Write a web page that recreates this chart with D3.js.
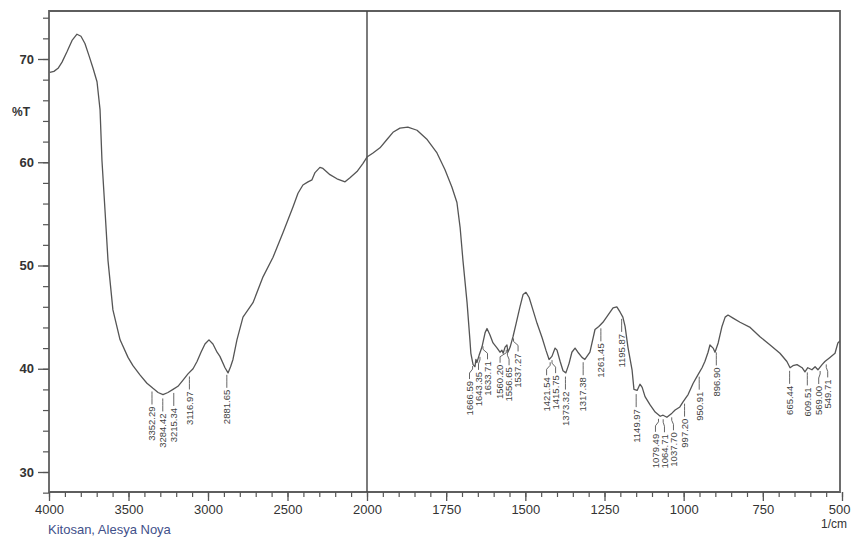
<!DOCTYPE html>
<html>
<head>
<meta charset="utf-8">
<script src="https://cdn.jsdelivr.net/npm/d3@7/dist/d3.min.js"></script>
<style>
  html, body { margin: 0; padding: 0; background: #fff; }
  svg { display: block; }
  text { font-family: "Liberation Sans", Arial, sans-serif; }
</style>
</head>
<body>
<svg id="chart" width="851" height="542"></svg>
<script>
// ---- Data ----
const wavenumber = [
  3995,3969,3943,3918,3887,3855,3824,3799,3774,3748,3723,3698,3679,3667,3648,3629,3598,3553,3503,3472,
  3428,3384,3346,3314,3283,3252,3220,3189,3157,3126,3094,3069,3044,3019,2994,2969,2943,2925,2893,2874,
  2858,2843,2818,2780,2717,2654,2591,2528,2465,2434,2403,2371,2346,2327,2296,2277,2233,2189,2138,2107,
  2063,2025,2000,1981,1959,1937,1918,1896,1871,1842,1810,1779,1754,1732,1716,1706,1697,1684,1675,1672,
  1665,1659,1656,1653,1646,1637,1627,1621,1612,1602,1589,1580,1574,1570,1564,1558,1555,1548,1539,1529,
  1517,1507,1498,1488,1476,1463,1447,1435,1425,1416,1406,1400,1390,1381,1372,1362,1353,1343,1334,1321,
  1312,1296,1280,1268,1255,1239,1223,1211,1201,1192,1185,1176,1163,1157,1147,1138,1131,1122,1106,1090,
  1074,1065,1053,1037,1027,1012,1002,986,970,955,942,933,923,917,907,901,891,879,869,860,
  844,822,790,759,727,696,674,664,655,642,626,617,608,595,585,576,563,554,538,522,
  513,503
];
const transmittance = [
  68.7,68.8,69.1,69.7,70.7,71.8,72.4,72.2,71.5,70.3,69.1,67.8,65.1,60.2,55.4,50.5,45.7,42.8,41.1,40.3,
  39.4,38.6,38.1,37.7,37.5,37.7,38.0,38.3,38.9,39.5,40.0,40.7,41.6,42.4,42.8,42.4,41.6,41.2,40.1,39.6,
  40.2,40.9,42.8,45.0,46.4,48.9,50.8,53.2,55.7,57.0,57.8,58.1,58.3,59.0,59.5,59.4,58.8,58.4,58.1,58.5,
  59.1,59.9,60.5,60.9,61.4,62.2,62.9,63.3,63.4,63.1,62.2,60.9,59.3,57.6,56.1,53.7,50.5,46.4,42.8,41.5,
  40.4,40.2,40.9,40.6,41.3,42.1,43.5,43.9,43.3,42.5,42.0,41.6,41.8,41.5,42.1,42.3,41.6,42.1,43.1,44.4,
  46.0,47.2,47.4,46.9,45.7,44.4,43.0,41.8,40.9,41.2,42.0,41.8,40.7,39.8,39.6,40.5,41.6,42.0,41.6,41.1,
  40.9,41.6,43.8,44.1,44.5,45.2,45.9,46.0,45.5,45.0,44.1,42.1,39.9,38.0,37.9,38.5,38.2,37.3,36.5,35.8,
  35.4,35.5,35.3,35.7,36.0,36.3,36.8,37.5,38.6,39.4,40.1,40.7,41.6,42.3,42.0,41.6,42.5,44.1,45.0,45.2,
  44.9,44.5,44.0,43.1,42.3,41.5,40.7,40.1,40.3,40.4,40.1,39.7,40.1,39.9,40.2,39.9,40.4,40.7,41.1,41.5,
  42.5,42.8
];
const peakLabels = [
  "3352.29","3284.42","3215.34","3116.97","2881.65",
  "1666.59","1643.35","1633.71","1560.20","1556.65","1537.27",
  "1421.54","1415.75","1373.32","1317.38","1261.45","1195.87","1149.97",
  "1079.49","1064.71","1037.70","997.20","950.91","896.90",
  "665.44","609.51","569.00","549.71"
];
const xMajorTicks = [4000,3500,3000,2500,2000,1750,1500,1250,1000,750,500];
const yMajorTicks = [30,40,50,60,70];
const xUnitLabel = "1/cm";
const yUnitLabel = "%T";
const sampleName = "Kitosan, Alesya Noya";

// ---- Layout ----
const svg = d3.select("#chart");
const pLeft = 49, pRight = 840, pTop = 11, pBottom = 492;

const x = d3.scaleLinear().domain([4000, 2000, 500]).range([49, 367, 842]);
const y = d3.scaleLinear().domain([30, 70]).range([472, 59]);

const xMinor = d3.range(4000, 2000, -100).concat(d3.range(2000, 499, -50));
const yMinor = d3.range(28, 75, 2);

// Frame
svg.append("path")
  .attr("d", `M${pLeft},${pBottom}V${pTop}H${pRight}V${pBottom}Z`)
  .attr("fill", "none").attr("stroke", "#5e5e5e").attr("stroke-width", 1.8);

// Range change marker at 2000
svg.append("line")
  .attr("x1", x(2000)).attr("x2", x(2000)).attr("y1", pTop).attr("y2", pBottom)
  .attr("stroke", "#444").attr("stroke-width", 1.4);

// X axis
const gx = svg.append("g").attr("transform", `translate(0,${pBottom})`);
gx.append("g").call(d3.axisBottom(x).tickValues(xMinor).tickSize(5).tickFormat(""))
  .call(g => g.select(".domain").remove())
  .call(g => g.selectAll("line").attr("stroke", "#555").attr("stroke-width", 1.2));
gx.append("g").call(d3.axisBottom(x).tickValues(xMajorTicks).tickSize(9).tickPadding(4).tickFormat(d3.format("d")))
  .call(g => g.select(".domain").remove())
  .call(g => g.selectAll("line").attr("stroke", "#555").attr("stroke-width", 1.3))
  .call(g => g.selectAll("text").attr("fill", "#333").attr("font-size", 13)
    .attr("font-family", "'Liberation Sans', Arial, sans-serif")
    .attr("text-anchor", d => d === 500 ? "end" : "middle")
    .attr("dx", d => d === 500 ? 8 : 0));

// Y axis
const gy = svg.append("g").attr("transform", `translate(${pLeft},0)`);
gy.append("g").call(d3.axisLeft(y).tickValues(yMinor).tickSize(6).tickFormat(""))
  .call(g => g.select(".domain").remove())
  .call(g => g.selectAll("line").attr("stroke", "#555").attr("stroke-width", 1.2));
gy.append("g").call(d3.axisLeft(y).tickValues(yMajorTicks).tickSize(11).tickPadding(4).tickFormat(d3.format("d")))
  .call(g => g.select(".domain").remove())
  .call(g => g.selectAll("line").attr("stroke", "#555").attr("stroke-width", 1.3))
  .call(g => g.selectAll("text").attr("fill", "#333").attr("font-size", 13).attr("font-weight", "bold")
    .attr("font-family", "'Liberation Sans', Arial, sans-serif"));

svg.append("text").attr("x", 12).attr("y", 116).text(yUnitLabel)
  .attr("font-size", 12).attr("font-weight", "bold").attr("fill", "#333");
svg.append("text").attr("x", 847).attr("y", 528).attr("text-anchor", "end").text(xUnitLabel)
  .attr("font-size", 12).attr("fill", "#333");
svg.append("text").attr("x", 48).attr("y", 534).text(sampleName)
  .attr("font-size", 13).attr("fill", "#41508a");

// Spectrum
const pts = wavenumber.map((w, i) => [w, transmittance[i]]);
svg.append("defs").append("clipPath").attr("id", "plotclip")
  .append("rect").attr("x", pLeft).attr("y", pTop).attr("width", pRight - pLeft).attr("height", pBottom - pTop);
svg.append("path")
  .datum(pts)
  .attr("clip-path", "url(#plotclip)")
  .attr("fill", "none").attr("stroke", "#555").attr("stroke-width", 1.3).attr("stroke-linejoin", "round")
  .attr("d", d3.line().x(d => x(d[0])).y(d => y(d[1])));

function tAt(w) {
  for (let i = 0; i < wavenumber.length - 1; i++) {
    const a = wavenumber[i], b = wavenumber[i + 1];
    if (w <= a && w >= b) {
      const t = (a - w) / (a - b);
      return transmittance[i] + t * (transmittance[i + 1] - transmittance[i]);
    }
  }
  return transmittance[transmittance.length - 1];
}

// Peak label placement with cluster de-overlap
const gap = 9;
const peaks = peakLabels.map(s => {
  const w = +s;
  return { s, w, px: x(w), cy: y(tAt(w)) };
});
let clusters = peaks.map(p => ({ items: [p] }));
function span(c) {
  const n = c.items.length;
  const mean = d3.mean(c.items, d => d.px);
  return { start: mean - (n - 1) * gap / 2, end: mean + (n - 1) * gap / 2 };
}
let merged = true;
while (merged) {
  merged = false;
  for (let i = 0; i < clusters.length - 1; i++) {
    const a = span(clusters[i]), b = span(clusters[i + 1]);
    if (b.start - a.end < gap) {
      clusters[i].items = clusters[i].items.concat(clusters[i + 1].items);
      clusters.splice(i + 1, 1);
      merged = true;
      break;
    }
  }
}
clusters.forEach(c => {
  const p = span(c);
  c.items.forEach((d, k) => { d.lx = p.start + k * gap; });
});

const gl = svg.append("g");
peaks.forEach(d => {
  const c = d.cy;
  gl.append("path")
    .attr("d", `M${d.px},${c + 4}V${c + 7}L${d.lx},${c + 11}V${c + 17}`)
    .attr("fill", "none").attr("stroke", "#555").attr("stroke-width", 0.9);
  gl.append("text")
    .attr("transform", `translate(${d.lx},${c + 19}) rotate(-90)`)
    .attr("text-anchor", "end").attr("dy", "0.35em")
    .attr("font-size", 9.5).attr("fill", "#444")
    .text(d.s);
});
</script>
</body>
</html>
